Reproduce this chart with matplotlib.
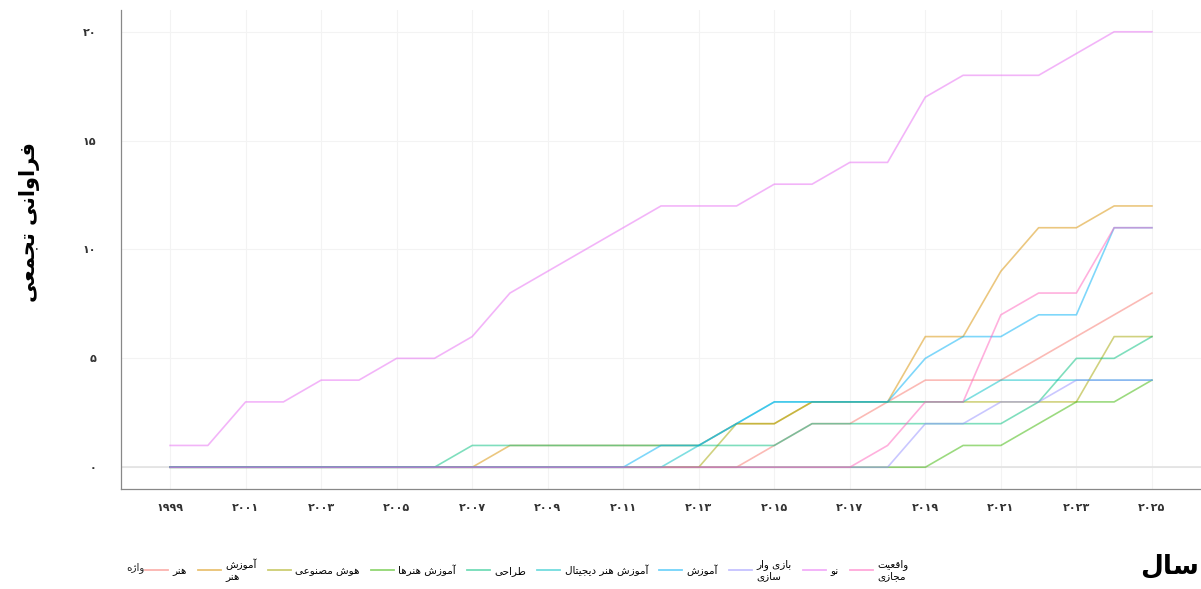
import matplotlib
matplotlib.use("Agg")
import matplotlib.pyplot as plt
from matplotlib.lines import Line2D

# ---- data -------------------------------------------------------------
years = list(range(1999, 2026))

labels = ["هنر", "آموزش\nهنر", "هوش مصنوعی", "آموزش هنرها", "طراحی",
          "آموزش هنر دیجیتال", "آموزش", "بازی وار\nسازی", "نو", "واقعیت\nمجازی"]
colors = ["#F8766D", "#D89000", "#A3A500", "#39B600", "#00BF7D",
          "#00BFC4", "#00B0F6", "#9590FF", "#E76BF3", "#FF62BC"]

honar = [0] * 16 + [1, 2, 2, 3, 4, 4, 4, 5, 6, 7, 8]
amoozesh_honar = [0] * 9 + [1] * 6 + [2, 2, 3, 3, 3, 6, 6, 9, 11, 11, 12, 12]
hoosh = [0] * 15 + [2, 2, 3, 3, 3, 3, 3, 3, 3, 3, 6, 6]
amoozesh_honarha = [0] * 21 + [1, 1, 2, 3, 3, 4]
tarahi = [0] * 8 + [1] * 9 + [2] * 6 + [3, 5, 5, 6]
honar_digital = [0] * 14 + [1, 2, 3] + [3] * 5 + [4] * 5
amoozesh = [0] * 13 + [1, 1, 2, 3, 3, 3, 3, 5, 6, 6, 7, 7, 11, 11]
bazi = [0] * 20 + [2, 2, 3, 3, 4, 4, 4]
no = [1, 1, 3, 3, 4, 4, 5, 5, 6, 8, 9, 10, 11, 12, 12, 12, 13, 13, 14, 14,
      17, 18, 18, 18, 19, 20, 20]
vaghiat = [0] * 19 + [1, 3, 3, 7, 8, 8, 11, 11]

series = [honar, amoozesh_honar, hoosh, amoozesh_honarha, tarahi,
          honar_digital, amoozesh, bazi, no, vaghiat]

xticks = list(range(1999, 2026, 2))
yticks = [0, 5, 10, 15, 20]

# ---- simple persian shaping (no reshaper libs available) ---------------
FORMS = {
    "ا": ("\uFE8D", "\uFE8E", None, None),
    "آ": ("\uFE81", "\uFE82", None, None),
    "د": ("\uFEA9", "\uFEAA", None, None),
    "ر": ("\uFEAD", "\uFEAE", None, None),
    "ز": ("\uFEAF", "\uFEB0", None, None),
    "ژ": ("\uFB8A", "\uFB8B", None, None),
    "و": ("\uFEED", "\uFEEE", None, None),
    "ب": ("\uFE8F", "\uFE90", "\uFE91", "\uFE92"),
    "ت": ("\uFE95", "\uFE96", "\uFE97", "\uFE98"),
    "ج": ("\uFE9D", "\uFE9E", "\uFE9F", "\uFEA0"),
    "ح": ("\uFEA1", "\uFEA2", "\uFEA3", "\uFEA4"),
    "س": ("\uFEB1", "\uFEB2", "\uFEB3", "\uFEB4"),
    "ش": ("\uFEB5", "\uFEB6", "\uFEB7", "\uFEB8"),
    "ص": ("\uFEB9", "\uFEBA", "\uFEBB", "\uFEBC"),
    "ط": ("\uFEC1", "\uFEC2", "\uFEC3", "\uFEC4"),
    "ع": ("\uFEC9", "\uFECA", "\uFECB", "\uFECC"),
    "ف": ("\uFED1", "\uFED2", "\uFED3", "\uFED4"),
    "ق": ("\uFED5", "\uFED6", "\uFED7", "\uFED8"),
    "ل": ("\uFEDD", "\uFEDE", "\uFEDF", "\uFEE0"),
    "م": ("\uFEE1", "\uFEE2", "\uFEE3", "\uFEE4"),
    "ن": ("\uFEE5", "\uFEE6", "\uFEE7", "\uFEE8"),
    "ه": ("\uFEE9", "\uFEEA", "\uFEEB", "\uFEEC"),
    "ی": ("\uFEEF", "\uFEF0", "\uFEF3", "\uFEF4"),
}


def shape(text):
    out = []
    for line in text.split("\n"):
        res = []
        for i, c in enumerate(line):
            if c not in FORMS:
                res.append(c)
                continue
            iso, fin, ini, med = FORMS[c]
            prev = line[i - 1] if i > 0 else None
            nxt = line[i + 1] if i + 1 < len(line) else None
            join_prev = prev in FORMS and FORMS[prev][2] is not None
            join_next = ini is not None and nxt in FORMS
            if join_prev and join_next:
                res.append(med)
            elif join_prev:
                res.append(fin)
            elif join_next:
                res.append(ini)
            else:
                res.append(iso)
        out.append("".join(reversed(res)))
    return "\n".join(out)


def fa_digits(n):
    return str(n).translate(str.maketrans("0123456789", "۰۱۲۳۴۵۶۷۸۹"))


# ---- plot ---------------------------------------------------------------
plt.rcParams["font.family"] = ["DejaVu Sans"]

fig = plt.figure(figsize=(12.01, 5.89), dpi=100)
ax = fig.add_axes([121 / 1201, 1 - 489 / 589, 1 - 121 / 1201, (489 - 10) / 589])

ax.axhline(0, color="#e2e2e2", lw=1.2, zorder=1)
for vals, col in zip(series, colors):
    ax.plot(years, vals, color=col, lw=1.2, alpha=0.5, zorder=2)

ax.set_xlim(1997.7, 2026.3)
ax.set_ylim(-1, 21)
ax.set_xticks(xticks)
ax.set_xticklabels([fa_digits(y) for y in xticks], fontsize=8, fontweight="bold", color="#333333")
ax.set_yticks(yticks)
ax.set_yticklabels([fa_digits(y) for y in yticks], fontsize=8, fontweight="bold", color="#333333")
ax.tick_params(axis="x", length=0, pad=10)
ax.tick_params(axis="y", length=0, pad=18)
ax.grid(True, color="#f3f3f3", lw=0.8)
ax.set_axisbelow(True)
for side in ["top", "right"]:
    ax.spines[side].set_visible(False)
for side in ["left", "bottom"]:
    ax.spines[side].set_color("#888888")
    ax.spines[side].set_linewidth(0.9)

fig.text(30 / 1201, 1 - 222 / 589, shape("فراوانی تجمعی"), rotation=90,
         ha="center", va="center", fontsize=15, fontweight="bold")
fig.text(1170 / 1201, 1 - 566 / 589, shape("سال"), ha="center", va="center",
         fontsize=19, fontweight="bold")

fig.text(135 / 1201, 1 - 568 / 589, shape("واژه"), ha="center", va="center",
         fontsize=7.5, color="#222222")
handles = [Line2D([0], [0], color=c, lw=1.3, alpha=0.55) for c in colors]
fig.legend(handles, [shape(l) for l in labels], loc="center left",
           bbox_to_anchor=(145 / 1201, 1 - 570 / 589), ncol=10, frameon=False,
           fontsize=7.5, handlelength=2.2, handletextpad=0.4, columnspacing=1.1,
           borderaxespad=0, borderpad=0)

fig.savefig("out.png", dpi=100, facecolor="white")
